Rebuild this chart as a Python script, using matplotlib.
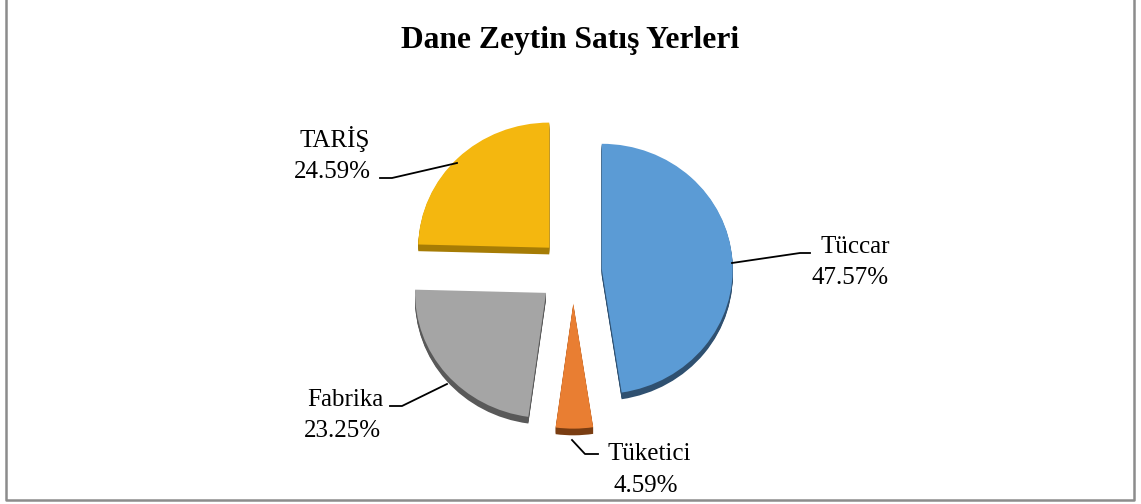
import matplotlib.pyplot as plt
from matplotlib.transforms import Affine2D

# slice data, clockwise from 12 o'clock
labels = ['Tüccar', 'Tüketici', 'Fabrika', 'TARİŞ']
shares = [47.57, 4.59, 23.25, 24.59]
colors = ['#5B9BD5', '#E97E32', '#A5A5A5', '#F4B70F']
side_colors = ['#2F5070', '#7A3D12', '#595959', '#A67C05']
explode = [0.22, 0.26, 0.27, 0.26]

W, H = 1141, 504
plt.rcParams['font.family'] = ['Liberation Serif', 'DejaVu Serif']

fig = plt.figure(figsize=(W / 100, H / 100), dpi=100)
ax = fig.add_axes([0, 0, 1, 1])

def Y(yp):
    return H - yp

cx, cy = 573, Y(271)
radius = 131
# pie() takes explode in data units, so scale by radius
explode_d = [e * radius for e in explode]
squash = Affine2D().translate(-cx, -cy).scale(1, 0.955).translate(cx, cy)

# extruded side of the 3D pie
for k in range(7, 0, -1):
    wedges, _ = ax.pie(shares, colors=side_colors, explode=explode_d, startangle=90,
                       counterclock=False, center=(cx, cy - k), radius=radius)
    for w in wedges:
        w.set_transform(squash + ax.transData)
        w.set_zorder(1)

wedges, _ = ax.pie(shares, colors=colors, explode=explode_d, startangle=90,
                   counterclock=False, center=(cx, cy), radius=radius)
for w in wedges:
    w.set_transform(squash + ax.transData)
    w.set_zorder(2)

ax.set_xlim(0, W)
ax.set_ylim(0, H)
ax.set_aspect('auto')
ax.axis('off')

# labels with leader lines
label_pos = {
    'Tüccar': ((855, 253), (850, 284)),
    'Tüketici': ((649, 460), (646, 492)),
    'Fabrika': ((345, 406), (342, 437)),
    'TARİŞ': ((335, 147), (332, 178)),
}
leaders = {
    'Tüccar': [(732, 263), (800, 253), (810, 253)],
    'Tüketici': [(572, 440), (585, 454), (598, 454)],
    'Fabrika': [(390, 406), (402, 406), (447, 384)],
    'TARİŞ': [(380, 178), (392, 178), (457, 163)],
}
for name, val in zip(labels, shares):
    (x1, y1), (x2, y2) = label_pos[name]
    ax.text(x1, Y(y1), name, ha='center', va='baseline', fontsize=18, zorder=5)
    ax.text(x2, Y(y2), f'{val:.2f}%', ha='center', va='baseline', fontsize=18, zorder=5)
    pts = leaders[name]
    ax.plot([p[0] for p in pts], [Y(p[1]) for p in pts], color='black', lw=1.3, zorder=4)

ax.text(570, Y(48), 'Dane Zeytin Satış Yerleri', ha='center', va='baseline',
        fontsize=22.7, fontweight='bold', zorder=5)

# chart border (left, right, bottom)
ax.plot([5.5, 5.5, 1133.5, 1133.5], [H + 2, Y(499.5), Y(499.5), H + 2],
        color='#8C8C8C', lw=1.8, zorder=6, clip_on=False)

fig.savefig('out.png', dpi=100)
